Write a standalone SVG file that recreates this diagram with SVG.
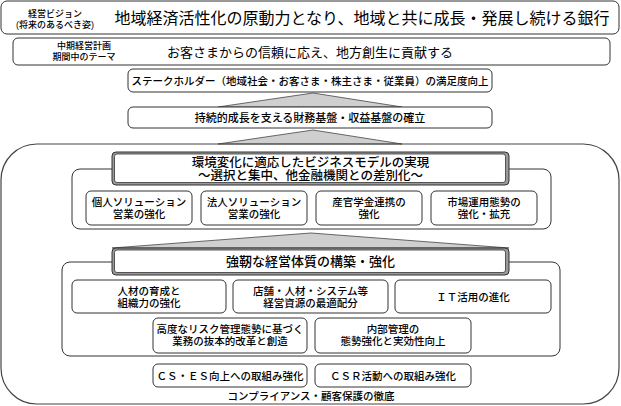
<svg xmlns="http://www.w3.org/2000/svg" width="621" height="406" viewBox="0 0 621 406">
<style>
text{font-family:"Liberation Sans","Noto Sans CJK JP",sans-serif;fill:#000;text-anchor:middle;font-weight:500}
.box{fill:#fff;stroke:#333;stroke-width:1}
.hdo{fill:#9a9a9a;stroke:#333;stroke-width:1}
.hdi{fill:#fff;stroke:#333;stroke-width:0.8}
.tri{fill:#cfcfcf;stroke:#444;stroke-width:0.8}
.s9{font-size:9px}
.s105{font-size:10.5px}
.s11{font-size:11px}
.s125{font-size:12.5px}
.s13{font-size:13px}
.s16{font-size:16px;font-weight:400}
</style>
<rect width="621" height="406" fill="#fff"/>
<g id="vision">
<rect class="box" x="1" y="1" width="618" height="33" rx="6" stroke-width="1.3"/>
<text class="s9" x="55" y="17">経営ビジョン</text>
<text class="s9" x="55" y="28">(将来のあるべき姿)</text>
<text class="s16" x="362" y="23.5">地域経済活性化の原動力となり、地域と共に成長・発展し続ける銀行</text>
</g>
<g id="theme">
<rect class="box" x="13" y="38" width="597" height="27" rx="5" stroke-width="1.6"/>
<text class="s9" x="84" y="49">中期経営計画</text>
<text class="s9" x="84" y="60">期間中のテーマ</text>
<text class="s13" x="310" y="56.5" style="font-weight:400">お客さまからの信頼に応え、地方創生に貢献する</text>
</g>
<g id="connectors">
<polygon class="tri" points="218,107 313,93 402,107"/>
<polygon class="tri" points="218,144 313,130 402,144"/>
<polygon class="tri" points="112,248 311,233 509,248"/>
</g>
<g id="stakeholder">
<rect class="box" x="128" y="69" width="364" height="23" rx="5"/>
<text class="s105" x="310" y="84.5">ステークホルダー（地域社会・お客さま・株主さま・従業員）の満足度向上</text>
</g>
<g id="financial">
<rect class="box" x="128" y="107" width="364" height="21" rx="5"/>
<text class="s11" x="310" y="121.5">持続的成長を支える財務基盤・収益基盤の確立</text>
</g>
<g id="outer">
<rect x="1" y="144" width="618" height="260" rx="36" fill="none" stroke="#444" stroke-width="1.2"/>
<text class="s105" x="311" y="400">コンプライアンス・顧客保護の徹底</text>
</g>
<g id="group1">
<rect class="box" x="72" y="169" width="479" height="60" rx="8"/>
<rect class="hdo" x="112" y="152" width="397" height="33" rx="4"/>
<rect class="hdi" x="114.5" y="154" width="391" height="28.5" rx="2.5"/>
<text class="s125" x="310.5" y="166.5">環境変化に適応したビジネスモデルの実現</text>
<text class="s125" x="310.5" y="179.5">～選択と集中、他金融機関との差別化～</text>
</g>
<g id="b1-1">
<rect class="box" x="86" y="191" width="106" height="34" rx="5"/>
<text class="s105" x="139" y="205.5">個人ソリューション</text>
<text class="s105" x="139" y="217.5">営業の強化</text>
</g>
<g id="b1-2">
<rect class="box" x="201" y="191" width="106" height="34" rx="5"/>
<text class="s105" x="254" y="205.5">法人ソリューション</text>
<text class="s105" x="254" y="217.5">営業の強化</text>
</g>
<g id="b1-3">
<rect class="box" x="316" y="191" width="106" height="34" rx="5"/>
<text class="s105" x="369" y="205.5">産官学金連携の</text>
<text class="s105" x="369" y="217.5">強化</text>
</g>
<g id="b1-4">
<rect class="box" x="431" y="191" width="106" height="34" rx="5"/>
<text class="s105" x="484" y="205.5">市場運用態勢の</text>
<text class="s105" x="484" y="217.5">強化・拡充</text>
</g>
<g id="group2">
<rect class="box" x="62" y="262" width="498" height="94" rx="8"/>
<rect class="hdo" x="112" y="248" width="397" height="27" rx="4"/>
<rect class="hdi" x="114.5" y="250" width="391" height="22.5" rx="2.5"/>
<text class="s13" x="310.5" y="266">強靭な経営体質の構築・強化</text>
</g>
<g id="b2-1">
<rect class="box" x="72" y="280" width="154" height="33" rx="5"/>
<text class="s105" x="149" y="294.5">人材の育成と</text>
<text class="s105" x="149" y="306.5">組織力の強化</text>
</g>
<g id="b2-2">
<rect class="box" x="233" y="280" width="155" height="33" rx="5"/>
<text class="s105" x="310.5" y="294.5">店舗・人材・システム等</text>
<text class="s105" x="310.5" y="306.5">経営資源の最適配分</text>
</g>
<g id="b2-3">
<rect class="box" x="395" y="280" width="156" height="33" rx="5"/>
<text class="s105" x="473" y="300.5">ＩＴ活用の進化</text>
</g>
<g id="b2-4">
<rect class="box" x="153" y="318" width="154" height="35" rx="5"/>
<text class="s105" x="230" y="333">高度なリスク管理態勢に基づく</text>
<text class="s105" x="230" y="345">業務の抜本的改革と創造</text>
</g>
<g id="b2-5">
<rect class="box" x="315" y="318" width="156" height="35" rx="5"/>
<text class="s105" x="393" y="333">内部管理の</text>
<text class="s105" x="393" y="345">態勢強化と実効性向上</text>
</g>
<g id="cs">
<rect class="box" x="153" y="364" width="154" height="23" rx="5"/>
<text class="s105" x="230" y="379.5">ＣＳ・ＥＳ向上への取組み強化</text>
</g>
<g id="csr">
<rect class="box" x="315" y="364" width="156" height="23" rx="5"/>
<text class="s105" x="393" y="379.5">ＣＳＲ活動への取組み強化</text>
</g>
</svg>
